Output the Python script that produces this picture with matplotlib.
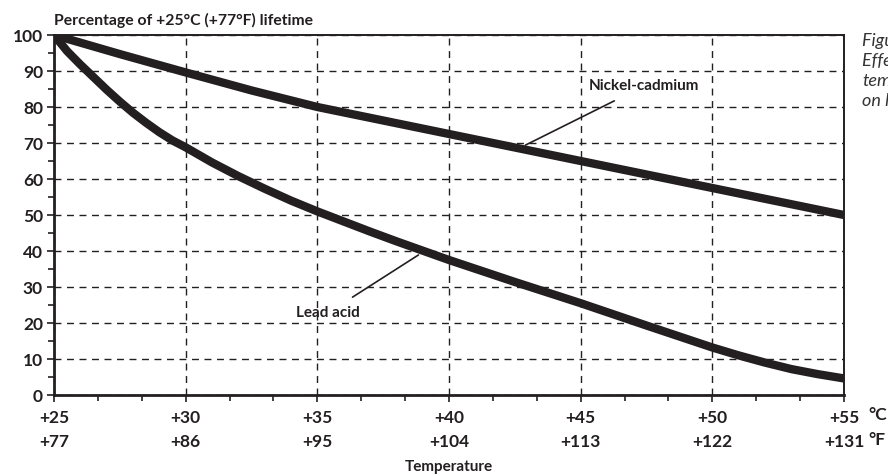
import matplotlib
matplotlib.use('Agg')
import matplotlib.pyplot as plt
from matplotlib.ticker import MultipleLocator

plt.rcParams['font.family'] = ['Lato', 'DejaVu Sans']

# temperature in degrees C and percentage of +25C lifetime
nicd_temp = [25, 27.5, 30, 32.5, 35, 40, 45, 50, 55]
nicd_life = [100, 94.7, 89.6, 84.6, 80, 72.5, 65, 57.5, 50]

lead_temp = [25, 25.5, 26, 26.5, 27, 27.5, 28, 28.5, 29, 29.5, 30, 31, 32, 33, 34,
             35, 36, 37, 38, 39, 40, 42.5, 45, 47.5, 50, 51, 52, 53, 54, 55]
lead_life = [100, 95.5, 91.8, 88.3, 84.8, 81.5, 78.4, 75.6, 73, 70.7, 68.8, 64.6,
             60.8, 57.3, 54.0, 51, 48.2, 45.4, 42.7, 40.1, 37.5, 31.4, 25.5, 19.3,
             13.2, 11.0, 9.0, 7.2, 5.8, 4.6]

tick_c = [25, 30, 35, 40, 45, 50, 55]
tick_f = [77, 86, 95, 104, 113, 122, 131]
y_ticks = list(range(0, 101, 10))

ink = '#231f20'

fig = plt.figure(figsize=(8.88, 4.76), dpi=100)
ax = fig.add_axes([54 / 888, 1 - 395 / 476, (844 - 54) / 888, (395 - 35) / 476])

ax.plot(nicd_temp, nicd_life, color=ink, lw=6, solid_capstyle='butt', solid_joinstyle='round', zorder=3)
ax.plot(lead_temp, lead_life, color=ink, lw=6, solid_capstyle='butt', solid_joinstyle='round', zorder=3)

ax.set_xlim(25, 55)
ax.set_ylim(0, 100)
ax.set_xticks(tick_c)
ax.set_xticklabels([f'+{c}\n+{f}' for c, f in zip(tick_c, tick_f)],
                   linespacing=1.6, fontsize=12.5, fontweight='bold', color=ink)
ax.set_yticks(y_ticks)
ax.set_yticklabels([str(v) for v in y_ticks], fontsize=12.5, fontweight='bold', color=ink)
ax.xaxis.set_minor_locator(MultipleLocator(5 / 3))
ax.yaxis.set_minor_locator(MultipleLocator(5))
ax.tick_params(which='major', length=5, width=1.2, color=ink, pad=3)
ax.tick_params(axis='x', which='major', pad=6)
ax.tick_params(which='minor', length=4, width=1.2, color=ink)

ax.grid(True, which='major', color=ink, linestyle=(0, (5, 4)), linewidth=1.0)
for side in ['left', 'bottom']:
    ax.spines[side].set_linewidth(2.0)
    ax.spines[side].set_color(ink)
for side in ['top', 'right']:
    ax.spines[side].set_linewidth(1.4)
    ax.spines[side].set_color(ink)

ax.text(0, 1.02, 'Percentage of +25°C (+77°F) lifetime', transform=ax.transAxes,
        ha='left', va='bottom', fontsize=11.3, fontweight='bold', color=ink)
ax.set_xlabel('Temperature', fontsize=11, fontweight='bold', color=ink, labelpad=7)

ax.text(868 / 888, 1 - 415 / 476, '°C', transform=fig.transFigure, ha='left', va='center',
        fontsize=12.5, fontweight='bold', color=ink)
ax.text(868 / 888, 1 - 440 / 476, '°F', transform=fig.transFigure, ha='left', va='center',
        fontsize=12.5, fontweight='bold', color=ink)

# callouts
ax.annotate('Nickel-cadmium', xy=(42.9, 69.4), xytext=(47.4, 85.8),
            ha='center', va='center', fontsize=11, fontweight='bold', color=ink,
            arrowprops=dict(arrowstyle='-', color=ink, lw=1.2, shrinkA=8, shrinkB=0),
            zorder=4)
ax.annotate('Lead acid', xy=(38.84, 38.9), xytext=(35.4, 22.8),
            ha='center', va='center', fontsize=11, fontweight='bold', color=ink,
            arrowprops=dict(arrowstyle='-', color=ink, lw=1.2, shrinkA=8, shrinkB=0),
            zorder=4)

# side caption, cut off by the right edge as in the source
fig.text(862 / 888, 1 - 71 / 476, 'Figure 4\nEffect of\ntemperature\non lifetime',
         ha='left', va='center', fontsize=13, style='italic', color='#333333',
         linespacing=1.3)

fig.savefig('out.png', dpi=100)
